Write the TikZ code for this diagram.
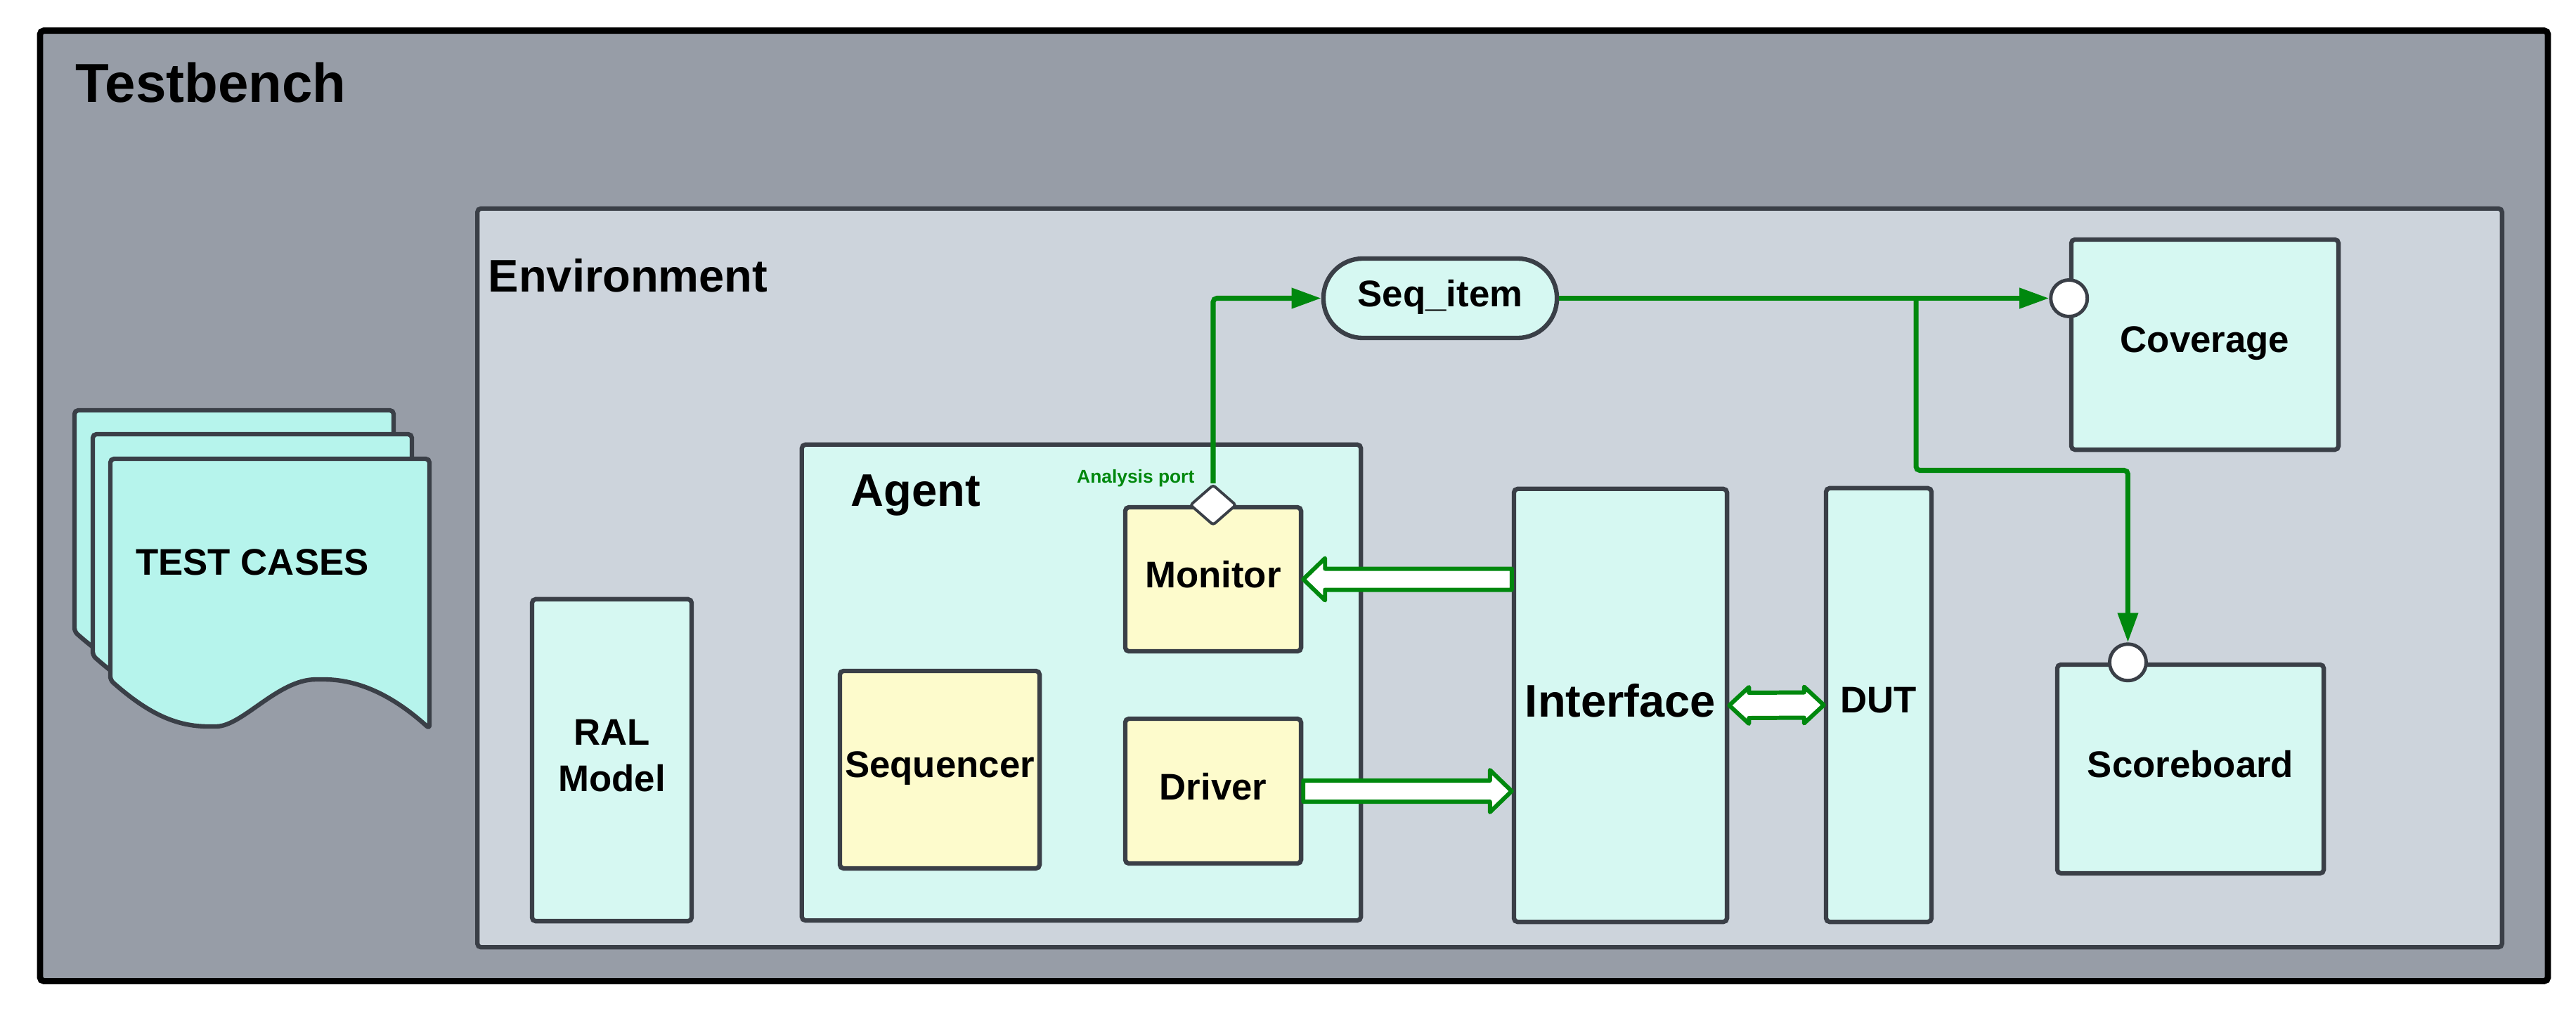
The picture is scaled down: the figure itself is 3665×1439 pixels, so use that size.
\documentclass[tikz,border=0pt]{standalone}
\usepackage{fontspec}
\setmainfont{Liberation Sans}
\usetikzlibrary{shapes.geometric,arrows.meta,calc}
\definecolor{benchgray}{HTML}{979DA7}
\definecolor{envgray}{HTML}{CDD4DC}
\definecolor{linegray}{HTML}{3A3F47}
\definecolor{mint}{HTML}{D6F8F2}
\definecolor{tcaqua}{HTML}{B6F4EC}
\definecolor{lemon}{HTML}{FDFBCC}
\definecolor{uvmgreen}{HTML}{00880E}

\begin{document}
\begin{tikzpicture}[x=0.01cm, y=-0.01cm,
        blk/.style={draw=linegray, line width=1.8pt, rounded corners=1.5pt, fill=mint, inner sep=0pt, align=center, text depth=0.14cm, font=\bfseries\fontsize{15}{18.8}\selectfont},
        unit/.style={blk, fill=lemon},
        big/.style={font=\bfseries\fontsize{18.5}{22}\selectfont},
        title/.style={anchor=base west, inner sep=0pt, big},
        flow/.style={draw=uvmgreen, line width=2pt, rounded corners=1.5pt, -{Triangle[length=0.42cm, width=0.28cm]}},
        hollow/.style={draw=uvmgreen, fill=white, line width=1.7pt, line join=round},
        sink/.style={circle, draw=linegray, fill=white, line width=1.4pt, minimum size=0.52cm, inner sep=0pt}]
        \useasboundingbox (0,0) rectangle (3665,1439);
        \node[blk, draw=black, line width=2.5pt, fill=benchgray, minimum width=35.66cm, minimum height=13.52cm] (bench) at (1841,720) {};
        \node[title, font=\bfseries\fontsize{22.2}{26}\selectfont] at (107,145) {Testbench};
        % test case pages
        \foreach \dx/\dy in {-51/-69,-25/-35,0/0}
            \draw[draw=linegray, line width=1.8pt, fill=tcaqua, rounded corners=1.5pt, shift={(\dx,\dy)}]
                (157,968) -- (157,653) -- (611,653) -- (611,1037)
                .. controls (570,1000) and (520,967) .. (455,967)
                .. controls (395,967) and (345,1034) .. (302,1034)
                .. controls (250,1034) and (210,1015) .. (157,968) -- cycle;
        \node[inner sep=0pt, font=\bfseries\fontsize{15}{18}\selectfont] (tests) at (359,800) {TEST CASES};
        \node[blk, fill=envgray, minimum width=28.79cm, minimum height=10.51cm] (env) at (2119.5,822.5) {};
        \node[title] at (694,415) {Environment};
        \node[blk, minimum width=2.27cm, minimum height=4.58cm] (ral) at (870.5,1082) {RAL\\Model};
        % agent
        \node[blk, minimum width=7.95cm, minimum height=6.77cm] (agent) at (1538.5,971.5) {};
        \node[title] at (1210,720) {Agent};
        \node[unit, minimum width=2.84cm, minimum height=2.81cm] (seqr) at (1337,1095.5) {Sequencer};
        \node[unit, minimum width=2.5cm, minimum height=2.05cm] (mon) at (1726,824.5) {Monitor};
        \node[unit, minimum width=2.5cm, minimum height=2.06cm] (drv) at (1726,1126) {Driver};
        \node[diamond, draw=linegray, fill=white, line width=1.1pt, rounded corners=1pt, minimum width=0.66cm, minimum height=0.58cm, inner sep=0pt] (port) at (mon.north) {};
        \node[anchor=base east, inner sep=0pt, text=uvmgreen, font=\bfseries\fontsize{7.5}{9}\selectfont] at (1700,687) {Analysis port};
        % interface, dut, analysis side
        \node[blk, big, minimum width=3.03cm, minimum height=6.16cm] (intf) at (2305.5,1004) {Interface};
        \node[blk, minimum width=1.5cm, minimum height=6.17cm] (dut) at (2673,1003.5) {DUT};
        \node[blk, minimum width=3.8cm, minimum height=2.99cm] (cov) at (3137,490.5) {Coverage};
        \node[blk, minimum width=3.79cm, minimum height=2.97cm] (sb) at (3116.5,1094.5) {Scoreboard};
        \node[blk, rounded corners=0.56cm, minimum width=3.32cm, minimum height=1.13cm] (seqitem) at (2049,424.5) {Seq\_item};
        \node[sink] (covin) at (cov.west |- seqitem.east) {};
        \node[sink] (sbin) at ([xshift=-0.89cm]sb.north) {};
        % analysis flow
        \draw[flow] (port.north) |- (seqitem.west);
        \draw[flow] (seqitem.east) -- (covin.west);
        \coordinate (split) at (2726,424.5);
        \draw[flow] (split) -- ++(0,245) -| (sbin.north);
        % pin level traffic
        \draw[hollow] (mon.east) -- ++(31,-30) -- ++(0,15) -- ($(mon.east -| intf.west)+(0,-15)$) -- ++(0,30) -- ($(mon.east)+(31,15)$) -- ++(0,15) -- cycle;
        \draw[hollow] (drv.east -| intf.west) -- ++(-31,-30) -- ++(0,15) -- ($(drv.east)+(0,-15)$) -- ++(0,30) -- ($(drv.east -| intf.west)+(-31,15)$) -- ++(0,15) -- cycle;
        \draw[hollow] (intf.east) -- ++(28,-26) -- ++(0,8) -- ($(dut.west)+(-28,-18)$) -- ++(0,-8) -- (dut.west) -- ++(-28,26) -- ++(0,-8) -- ($(intf.east)+(28,18)$) -- ++(0,8) -- cycle;
    \end{tikzpicture}
\end{document}
